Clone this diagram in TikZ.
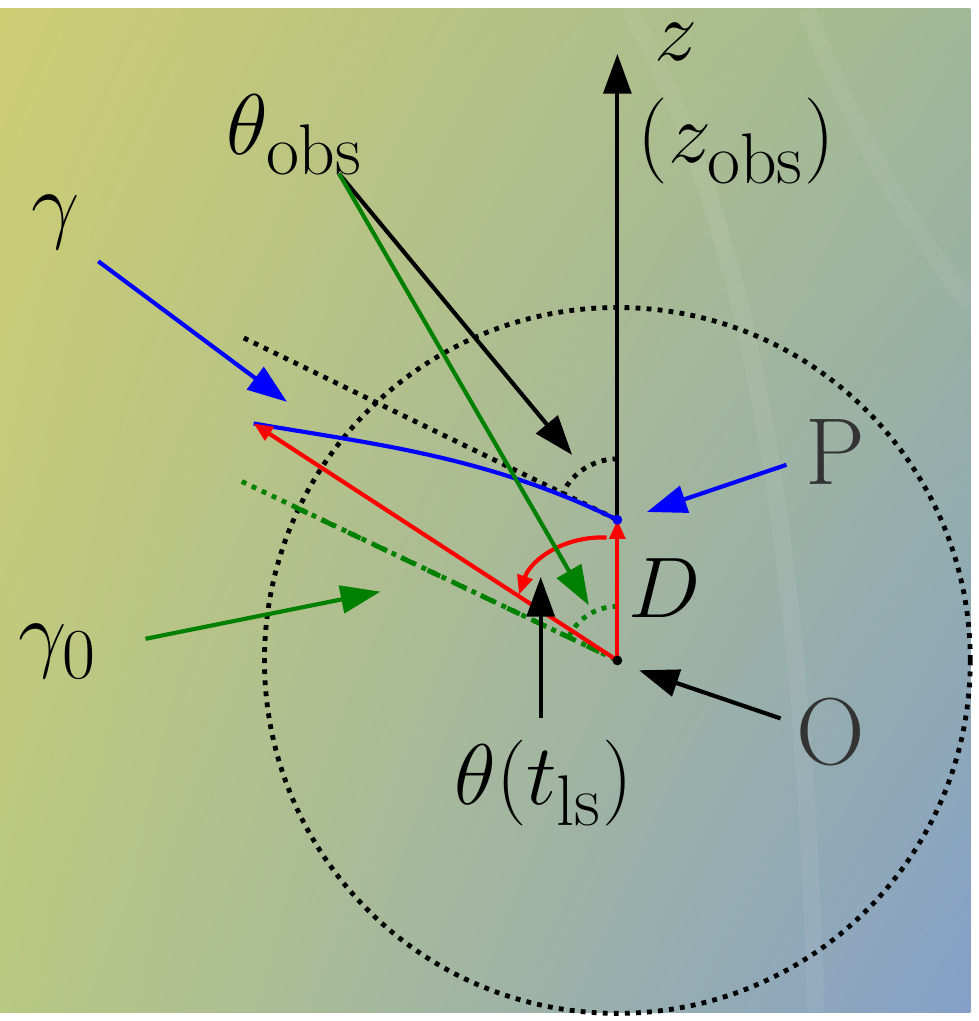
\documentclass[tikz,border=0pt]{standalone}
\usetikzlibrary{arrows.meta,shadings}
\definecolor{bgtl}{RGB}{205,205,115}
\definecolor{bgtr}{RGB}{160,184,150}
\definecolor{bgbl}{RGB}{185,200,130}
\definecolor{bgbr}{RGB}{133,160,200}
\definecolor{darkgreen}{RGB}{0,128,0}
\begin{document}
\begin{tikzpicture}[x=0.01cm,y=-0.01cm,
  lbl/.style={font=\fontsize{30.5}{36}\selectfont,inner sep=0pt,anchor=base},
  ptlbl/.style={lbl,font=\fontsize{27.5}{33}\selectfont,text=black!80},
  bigarrow/.style={line width=1.2pt,-{Triangle[length=11.5pt,width=8pt]}},
  redarrow/.style={red,line width=1.2pt,-{Triangle[length=5.5pt,width=4.5pt]}},
  dotline/.style={line width=1.4pt,dash pattern=on 1.4pt off 1.8pt}]
  % background
  \shade[upper left=bgtl,upper right=bgtr,lower left=bgbl,lower right=bgbr] (0,0) rectangle (987,1021);
  \draw[white,opacity=0.06,line width=5pt] (640,0) .. controls (760,220) and (815,520) .. (830,1021);
  \draw[white,opacity=0.05,line width=5pt] (820,0) .. controls (870,130) and (930,230) .. (987,300);
  % points
  \coordinate (O) at (628,663);
  \coordinate (P) at (628,520);
  \coordinate (G) at (258,422);
  \coordinate (ztip) at (628,46);
  \coordinate (tl) at (248,335);
  \coordinate (tg) at (246,481);
  % circle and angle marks
  \draw[dotline] (O) circle[radius=359];
  \draw[dotline] (tl) -- (P);
  \draw[dotline] (P) ++(0,-62) arc[start angle=-90,end angle=-154,radius=62];
  \draw[dotline,darkgreen] (tg) -- (O);
  \draw[darkgreen,line width=1.4pt,dash pattern=on 4pt off 4.5pt] (300,507) -- (O);
  \draw[dotline,darkgreen] (O) ++(0,-55) arc[start angle=-90,end angle=-154,radius=55];
  % axis, ray and vectors
  \draw[bigarrow] (P) -- (ztip);
  \draw[blue,line width=1.2pt] (P) .. controls (495,455) and (380,443) .. (G);
  \draw[redarrow] (O) -- (G);
  \draw[redarrow] (O) -- (P);
  \draw[redarrow] (617,538) .. controls (575,536) and (540,560) .. (528,596);
  \fill[blue] (P) circle[radius=5];
  \fill[black] (O) circle[radius=5];
  % labels
  \node[lbl] (z) at (688,53) {$z$};
  \node[lbl] (zobs) at (749,157) {$(z_{\mathrm{obs}})$};
  \node[lbl] (thobs) at (300,148) {$\theta_{\mathrm{obs}}$};
  \node[lbl] (gam) at (57,228) {$\gamma$};
  \node[lbl] (gam0) at (59,664) {$\gamma_0$};
  \node[lbl] (thls) at (553,810) {$\theta(t_{\mathrm{ls}})$};
  \node[lbl] (D) at (676,619) {$D$};
  \node[ptlbl] (Plbl) at (850,484) {P};
  \node[ptlbl] (Olbl) at (845,769) {O};
  % pointers
  \coordinate (a1) at (345,168);
  \coordinate (a2) at (100,257);
  \coordinate (a3) at (148,641);
  \coordinate (a4) at (550,722);
  \coordinate (a5) at (800,464);
  \coordinate (a6) at (794,722);
  \draw[bigarrow] (a1) -- (582,454);
  \draw[bigarrow,darkgreen] (a1) -- (599,607);
  \draw[bigarrow,blue] (a2) -- (292,400);
  \draw[bigarrow,darkgreen] (a3) -- (387,593);
  \draw[bigarrow] (a4) -- (550,578);
  \draw[bigarrow,blue] (a5) -- (658,512);
  \draw[bigarrow] (a6) -- (650,673);
\end{tikzpicture}
\end{document}
